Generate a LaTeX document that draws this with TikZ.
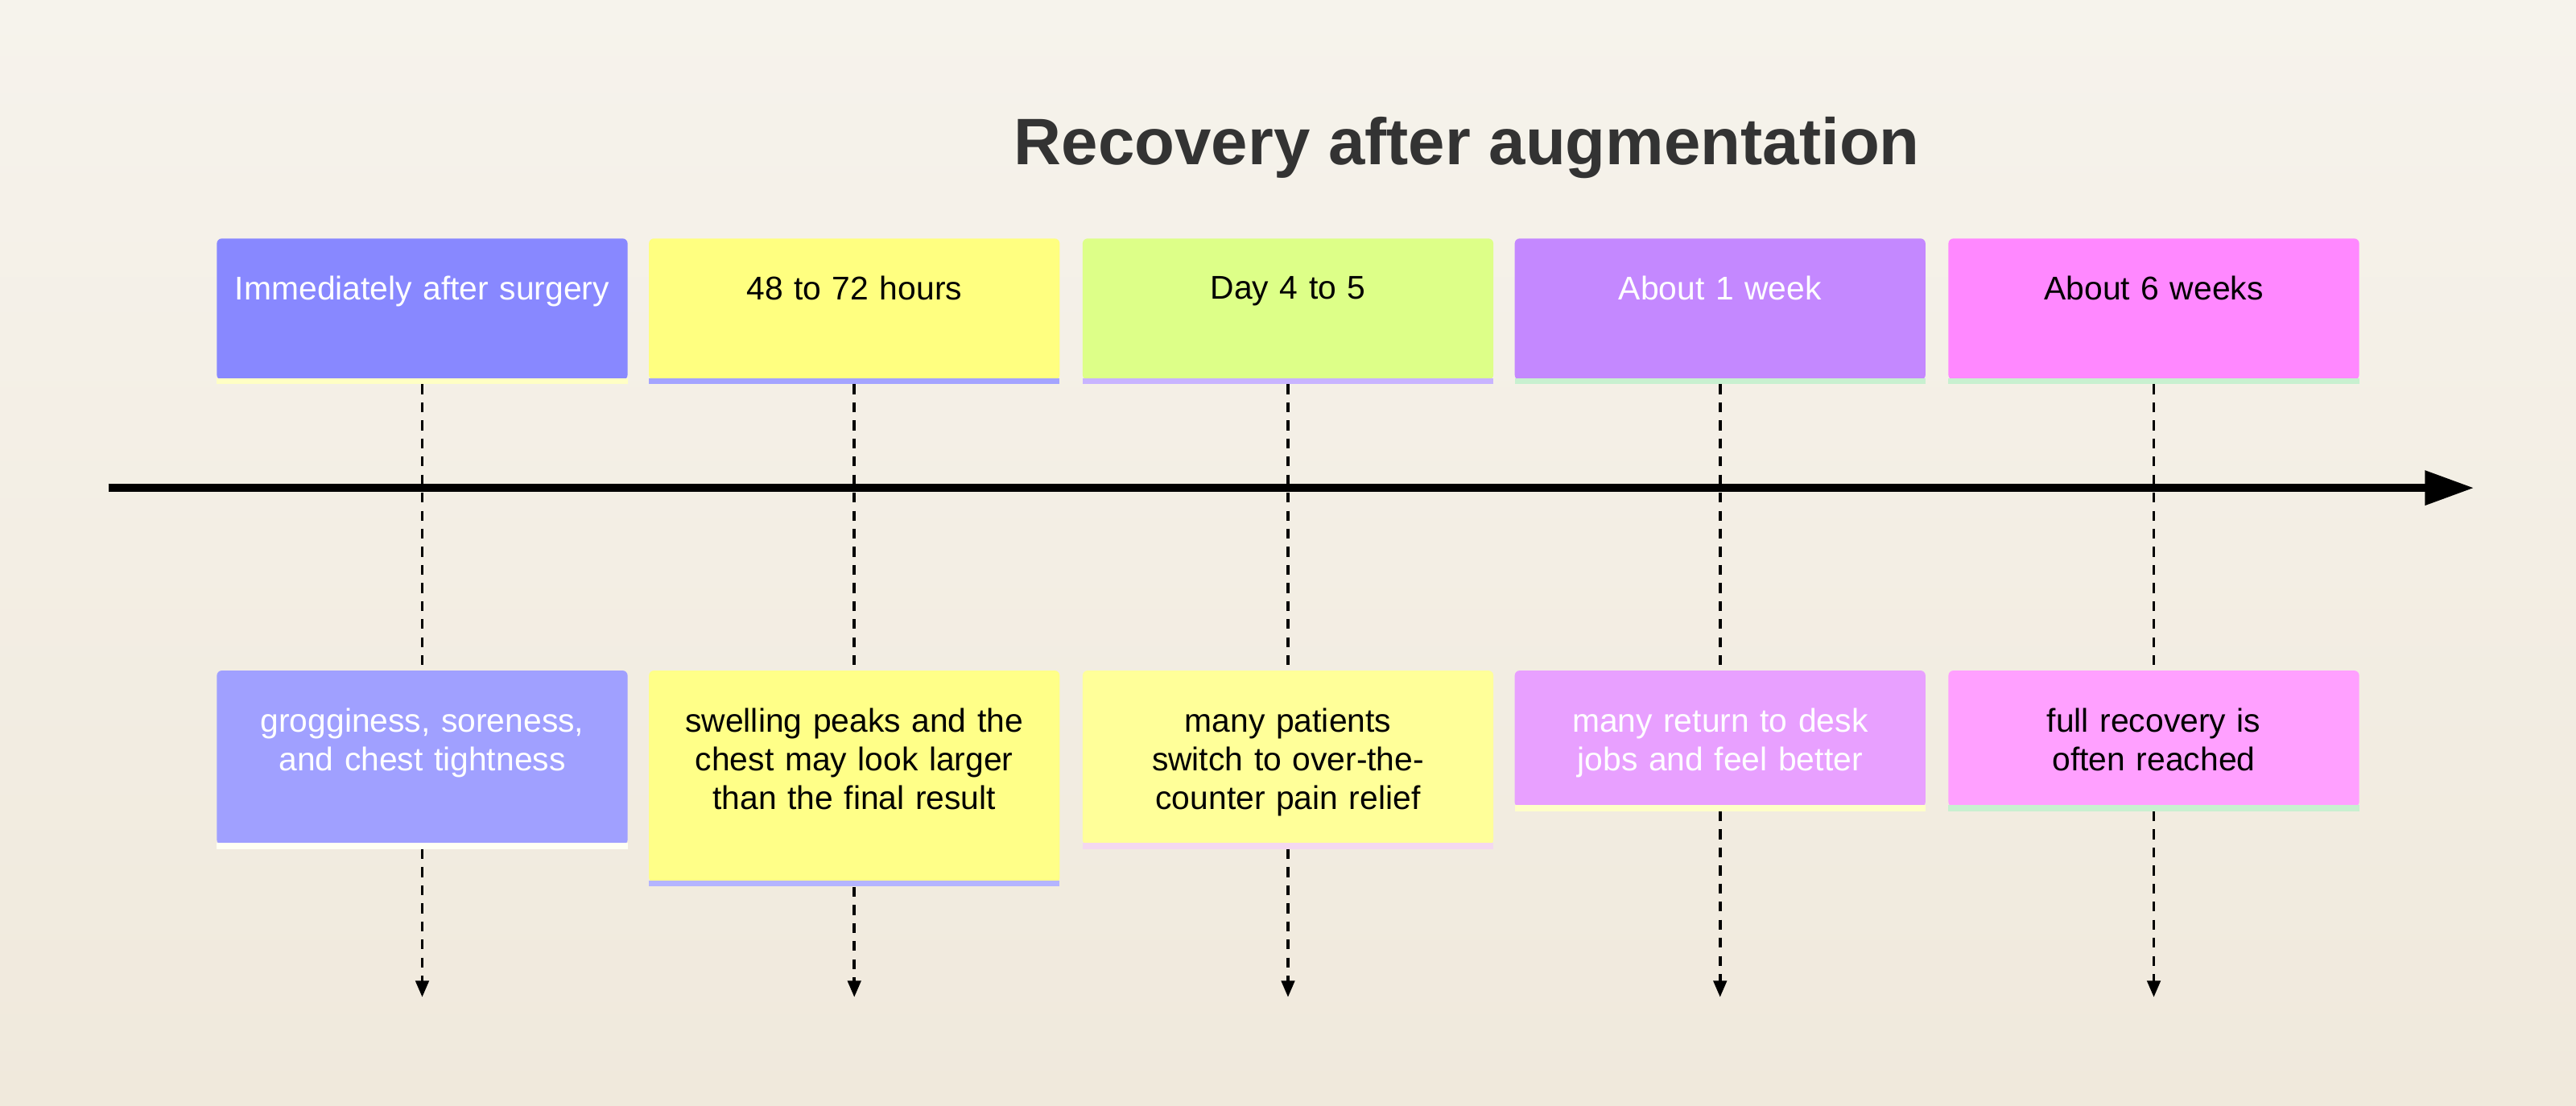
\documentclass[tikz,border=0pt]{standalone}
\usepackage{fontspec}
\setmainfont{Liberation Sans}
\usetikzlibrary{arrows.meta}
\definecolor{bgtop}{HTML}{F6F3EC}
\definecolor{bgbot}{HTML}{F0E9DC}
\definecolor{tc}{HTML}{333333}
\definecolor{ta}{HTML}{8888FF}\definecolor{tb}{HTML}{FFFF80}\definecolor{tcc}{HTML}{DDFF88}\definecolor{td}{HTML}{C488FF}\definecolor{tee}{HTML}{FF88FF}
\definecolor{sa}{HTML}{FFFFC4}\definecolor{sb}{HTML}{A4A4FF}\definecolor{sc}{HTML}{C8B4FF}\definecolor{sd}{HTML}{C8F0D0}
\definecolor{ba}{HTML}{A0A0FF}\definecolor{bb}{HTML}{FFFF88}\definecolor{bc}{HTML}{FFFF99}\definecolor{bd}{HTML}{E8A0FF}\definecolor{be}{HTML}{FFA0FF}
\definecolor{ra}{HTML}{FFFFF4}\definecolor{rb}{HTML}{B4B4FF}\definecolor{rc}{HTML}{F4D8F0}\definecolor{rd}{HTML}{FFFFC8}
\tikzset{
  box/.style={draw=none, rounded corners=3pt, minimum width=250pt, inner sep=0pt, anchor=north},
  lbl/.style={text width=230pt, align=center, font=\fontsize{20}{23.5}\selectfont, anchor=north, inner sep=0pt},
  stripe/.style={minimum width=250pt, minimum height=3.5pt, inner sep=0pt, anchor=north},
  dashln/.style={line width=1.8pt, dash pattern=on 6pt off 5pt, draw=black},
  tipln/.style={-{Triangle[length=10pt,width=8pt]}}
}
\begin{document}
\begin{tikzpicture}[x=1pt,y=-1pt]
\shade[top color=bgtop, bottom color=bgbot] (0,0) rectangle (1568,673);
\useasboundingbox (0,0) rectangle (1568,673);
\node[font=\fontsize{40}{44}\selectfont\bfseries, text=tc] (title) at (893,90) {Recovery after augmentation};
\coordinate (ts) at (66,297);
\coordinate (te) at (1506,297);
\draw[line width=5pt, -{Triangle[length=30pt,width=20pt]}] (ts) -- (te);
\def\topbox#1#2#3#4#5#6{%
  \node[box, fill=#2, minimum height=86pt] (t#1) at (#3,145) {};
  \node[stripe, fill=#4] (ts#1) at (#3,230) {};
  \node[lbl, text=#5] (tl#1) at (#3,168) {#6};
}
\topbox{1}{ta}{257}{sa}{white}{Immediately after surgery}
\topbox{2}{tb}{520}{sb}{black}{48 to 72 hours}
\topbox{3}{tcc}{784}{sc}{black}{Day 4 to 5}
\topbox{4}{td}{1047}{sd}{white}{About 1 week}
\topbox{5}{tee}{1311}{sd}{black}{About 6 weeks}
\def\botbox#1#2#3#4#5#6#7#8{%
  \node[box, fill=#2, minimum height=#4] (b#1) at (#3,408) {};
  \node[stripe, fill=#5] (bs#1) at (#3,#7) {};
  \node[lbl, text=#6] (bl#1) at (#3,431) {#8};
}
\botbox{1}{ba}{257}{106pt}{ra}{white}{513}{grogginess, soreness, and chest tightness}
\botbox{2}{bb}{520}{129pt}{rb}{black}{536}{swelling peaks and the chest may look larger than the final result}
\botbox{3}{bc}{784}{106pt}{rc}{black}{513}{many patients switch to over-the-counter pain relief}
\botbox{4}{bd}{1047}{83pt}{rd}{white}{490}{many return to desk jobs and feel better}
\botbox{5}{be}{1311}{83pt}{sd}{black}{490}{full recovery is often reached}
\foreach \i/\x in {1/257,2/520,3/784,4/1047,5/1311}{
  \coordinate (e\i) at (\x,607);
  \draw[dashln] (ts\i.south) -- (b\i.north);
  \draw[dashln, tipln] (bs\i.south) -- (e\i);
}
\end{tikzpicture}
\end{document}
